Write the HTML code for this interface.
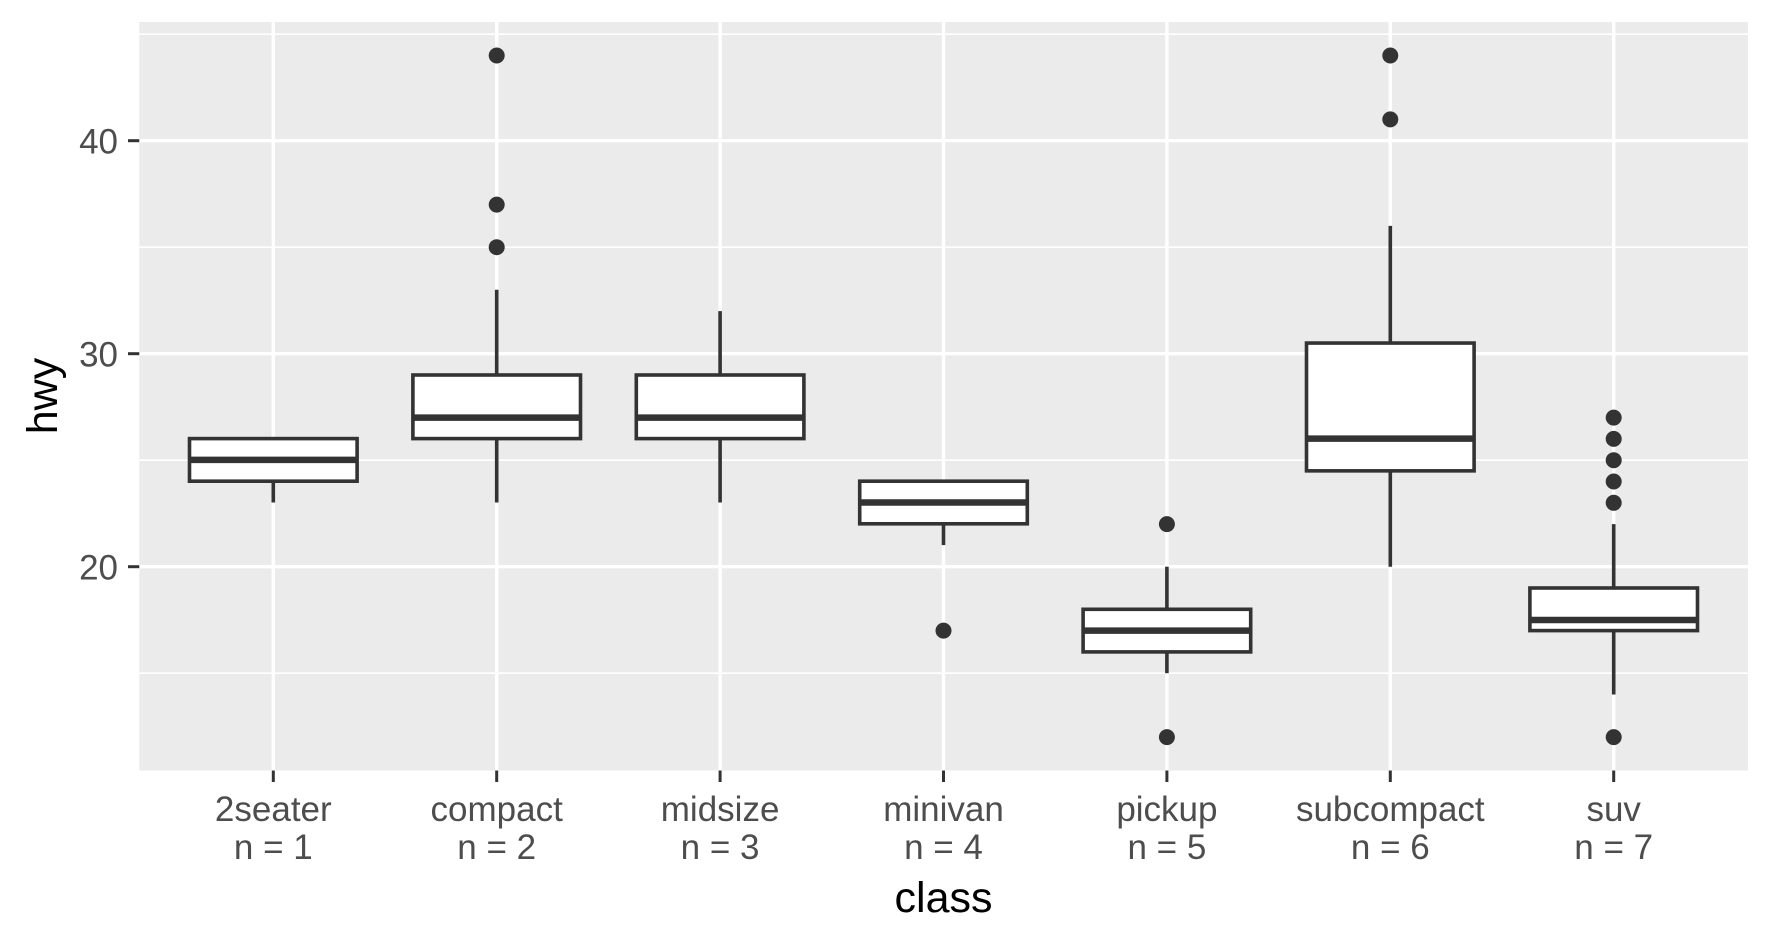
<!DOCTYPE html>
<html><head><meta charset="utf-8"><style>
html,body{margin:0;padding:0;background:#fff}
svg{display:block}
text{font-family:"Liberation Sans",Arial,sans-serif}
</style></head><body>
<svg width="1771" height="944" xmlns="http://www.w3.org/2000/svg">
<rect x="139.3" y="22" width="1608.7" height="748.5" fill="#ebebeb"/>
<g stroke="#fff" stroke-width="1.7">
<line x1="139.3" x2="1748" y1="34.2" y2="34.2"/>
<line x1="139.3" x2="1748" y1="247.2" y2="247.2"/>
<line x1="139.3" x2="1748" y1="460.2" y2="460.2"/>
<line x1="139.3" x2="1748" y1="673.2" y2="673.2"/>
</g>
<g stroke="#fff" stroke-width="3.4">
<line x1="139.3" x2="1748" y1="140.7" y2="140.7"/>
<line x1="139.3" x2="1748" y1="353.7" y2="353.7"/>
<line x1="139.3" x2="1748" y1="566.7" y2="566.7"/>
<line y1="22" y2="770.5" x1="273.3" x2="273.3"/>
<line y1="22" y2="770.5" x1="496.7" x2="496.7"/>
<line y1="22" y2="770.5" x1="720.1" x2="720.1"/>
<line y1="22" y2="770.5" x1="943.5" x2="943.5"/>
<line y1="22" y2="770.5" x1="1166.9" x2="1166.9"/>
<line y1="22" y2="770.5" x1="1390.3" x2="1390.3"/>
<line y1="22" y2="770.5" x1="1613.7" x2="1613.7"/>
</g>
<g stroke="#333" fill="#fff" stroke-width="3.6">
<line x1="273.3" x2="273.3" y1="481.2" y2="502.5"/>
<rect x="189.5" y="438.6" width="167.6" height="42.6"/>
<line x1="189.5" x2="357.1" y1="459.9" y2="459.9" stroke-width="6.5"/>
<line x1="496.7" x2="496.7" y1="289.8" y2="375"/>
<line x1="496.7" x2="496.7" y1="438.6" y2="502.5"/>
<rect x="412.9" y="375" width="167.6" height="63.6"/>
<line x1="412.9" x2="580.5" y1="417.6" y2="417.6" stroke-width="6.5"/>
<line x1="720.1" x2="720.1" y1="311.1" y2="375"/>
<line x1="720.1" x2="720.1" y1="438.6" y2="502.5"/>
<rect x="636.3" y="375" width="167.6" height="63.6"/>
<line x1="636.3" x2="803.9" y1="417.6" y2="417.6" stroke-width="6.5"/>
<line x1="943.5" x2="943.5" y1="523.8" y2="545.1"/>
<rect x="859.7" y="481.2" width="167.6" height="42.6"/>
<line x1="859.7" x2="1027.3" y1="502.5" y2="502.5" stroke-width="6.5"/>
<line x1="1166.9" x2="1166.9" y1="566.7" y2="609.3"/>
<line x1="1166.9" x2="1166.9" y1="630.6" y2="673.2"/>
<rect x="1083.1" y="609.3" width="167.6" height="42.6"/>
<line x1="1083.1" x2="1250.7" y1="630.6" y2="630.6" stroke-width="6.5"/>
<line x1="1390.3" x2="1390.3" y1="225.9" y2="343.05"/>
<line x1="1390.3" x2="1390.3" y1="470.85" y2="566.7"/>
<rect x="1306.5" y="343.05" width="167.6" height="127.8"/>
<line x1="1306.5" x2="1474.1" y1="438.6" y2="438.6" stroke-width="6.5"/>
<line x1="1613.7" x2="1613.7" y1="524.1" y2="588"/>
<line x1="1613.7" x2="1613.7" y1="630.6" y2="694.5"/>
<rect x="1529.9" y="588" width="167.6" height="42.6"/>
<line x1="1529.9" x2="1697.5" y1="619.95" y2="619.95" stroke-width="6.5"/>
</g>
<g fill="#333">
<circle cx="496.7" cy="55.5" r="8"/>
<circle cx="496.7" cy="204.6" r="8"/>
<circle cx="496.7" cy="247.2" r="8"/>
<circle cx="943.5" cy="630.6" r="8"/>
<circle cx="1166.9" cy="524.1" r="8"/>
<circle cx="1166.9" cy="737.1" r="8"/>
<circle cx="1390.3" cy="55.5" r="8"/>
<circle cx="1390.3" cy="119.4" r="8"/>
<circle cx="1613.7" cy="417.6" r="8"/>
<circle cx="1613.7" cy="438.9" r="8"/>
<circle cx="1613.7" cy="460.2" r="8"/>
<circle cx="1613.7" cy="481.5" r="8"/>
<circle cx="1613.7" cy="502.8" r="8"/>
<circle cx="1613.7" cy="737.1" r="8"/>
</g>
<g stroke="#333" stroke-width="3">
<line x1="128" x2="139.3" y1="140.7" y2="140.7"/>
<line x1="128" x2="139.3" y1="353.7" y2="353.7"/>
<line x1="128" x2="139.3" y1="566.7" y2="566.7"/>
<line y1="770.5" y2="782" x1="273.3" x2="273.3"/>
<line y1="770.5" y2="782" x1="496.7" x2="496.7"/>
<line y1="770.5" y2="782" x1="720.1" x2="720.1"/>
<line y1="770.5" y2="782" x1="943.5" x2="943.5"/>
<line y1="770.5" y2="782" x1="1166.9" x2="1166.9"/>
<line y1="770.5" y2="782" x1="1390.3" x2="1390.3"/>
<line y1="770.5" y2="782" x1="1613.7" x2="1613.7"/>
</g>
<g fill="#4d4d4d" font-size="35" text-anchor="end">
<text x="118" y="153.5">40</text>
<text x="118" y="366.5">30</text>
<text x="118" y="579.5">20</text>
</g>
<g fill="#4d4d4d" font-size="35" text-anchor="middle">
<text x="273.3" y="821">2seater</text><text x="273.3" y="859">n = 1</text>
<text x="496.7" y="821">compact</text><text x="496.7" y="859">n = 2</text>
<text x="720.1" y="821">midsize</text><text x="720.1" y="859">n = 3</text>
<text x="943.5" y="821">minivan</text><text x="943.5" y="859">n = 4</text>
<text x="1166.9" y="821">pickup</text><text x="1166.9" y="859">n = 5</text>
<text x="1390.3" y="821">subcompact</text><text x="1390.3" y="859">n = 6</text>
<text x="1613.7" y="821">suv</text><text x="1613.7" y="859">n = 7</text>
</g>
<text x="943.5" y="912" font-size="43" text-anchor="middle" fill="#000">class</text>
<text transform="translate(57,396) rotate(-90)" font-size="43" text-anchor="middle" fill="#000">hwy</text>
</svg>
</body></html>
